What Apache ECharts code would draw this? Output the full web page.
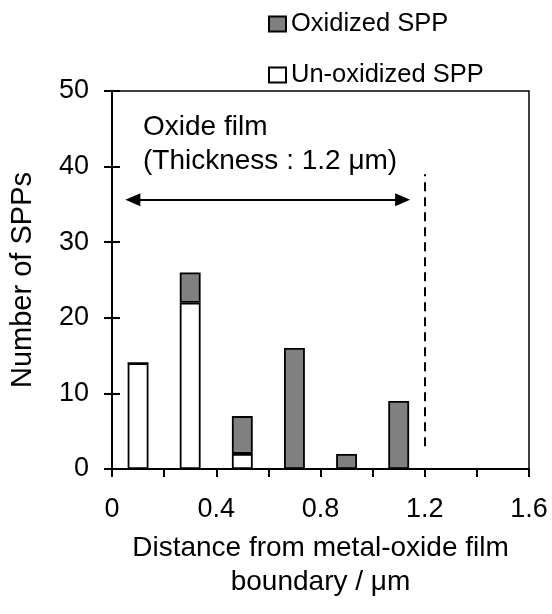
<!DOCTYPE html>
<html>
<head>
<meta charset="utf-8">
<script src="https://cdn.jsdelivr.net/npm/echarts@6/dist/echarts.min.js"></script>
<style>
  html, body { margin: 0; padding: 0; background: #fff; }
  #chart { width: 552px; height: 614px; }
</style>
</head>
<body>
<div id="chart"></div>
<script>
// bins of 0.2 um, bar centred on each bin
let bins = ["0.1", "0.3", "0.5", "0.7", "0.9", "1.1", "1.3", "1.5"];
let unOxidized = [14, 22, 2, 0, 0, 0, 0, 0];
let oxidized = [0, 4, 5, 16, 2, 9, 0, 0];
let xTickLabels = { 0: "0", 4: "0.4", 8: "0.8", 12: "1.2", 16: "1.6" };
let yTicks = { min: 0, max: 50, step: 10 };

// annotation: film thickness line and arrow
let filmEdge = 1.2;
let dashSpan = [3, 39];
let arrowSpan = [0.08, 1.115];
let arrowLevel = 35.6;

let font = "Liberation Sans, Arial, sans-serif";
let myChart = echarts.init(document.getElementById("chart"));

myChart.setOption({
  animation: false,
  textStyle: { fontFamily: font, color: "#000" },
  legend: {
    orient: "vertical",
    left: 263,
    top: 6,
    itemGap: 25,
    itemWidth: 17,
    itemHeight: 15,
    icon: "rect",
    data: ["Oxidized SPP", "Un-oxidized SPP"],
    textStyle: { fontSize: 25.5, fontFamily: font, color: "#000" },
  },
  grid: {
    left: 112,
    right: 23,
    top: 91,
    bottom: 145,
    show: true,
    borderColor: "#000",
    borderWidth: 1.5,
  },
  xAxis: [
    {
      // bars
      type: "category",
      data: bins,
      boundaryGap: true,
      axisLine: { lineStyle: { color: "#000", width: 2 } },
      axisTick: { inside: true, length: 8, lineStyle: { color: "#000", width: 2 } },
      axisLabel: { show: false },
    },
    {
      // labels and outer ticks
      type: "value",
      position: "bottom",
      min: 0,
      max: 1.6,
      interval: 0.2,
      axisLine: { show: false },
      axisTick: { show: true, length: 8, lineStyle: { color: "#000", width: 2 } },
      splitLine: { show: false },
      axisLabel: {
        fontSize: 27,
        color: "#000",
        margin: 27,
        formatter: (v) => xTickLabels[Math.round(v * 10)] || "",
      },
      name: "Distance from metal-oxide film\nboundary / μm",
      nameLocation: "middle",
      nameGap: 62,
      nameTextStyle: { fontSize: 28, color: "#000", lineHeight: 34 },
    },
  ],
  yAxis: [
    {
      type: "value",
      min: yTicks.min,
      max: yTicks.max,
      interval: yTicks.step,
      axisLine: { show: true, lineStyle: { color: "#000", width: 2 } },
      axisTick: { show: true, length: 8, lineStyle: { color: "#000", width: 2 } },
      splitLine: { show: false },
      axisLabel: { fontSize: 27, color: "#000", margin: 23 },
      name: "Number of SPPs",
      nameLocation: "middle",
      nameGap: 75,
      nameTextStyle: { fontSize: 29, color: "#000" },
    },
    {
      type: "value",
      position: "left",
      min: yTicks.min,
      max: yTicks.max,
      interval: yTicks.step,
      axisLine: { show: false },
      axisTick: { show: true, inside: true, length: 8, lineStyle: { color: "#000", width: 2 } },
      splitLine: { show: false },
      axisLabel: { show: false },
    },
  ],
  graphic: [
    {
      type: "text",
      left: 143,
      top: 110,
      style: {
        text: "Oxide film\n(Thickness : 1.2 μm)",
        font: "28px " + font,
        lineHeight: 34,
        fill: "#000",
      },
    },
  ],
  series: [
    {
      name: "Un-oxidized SPP",
      type: "bar",
      stack: "spp",
      barWidth: "40%",
      data: unOxidized,
      itemStyle: { color: "#fff", borderColor: "#000", borderWidth: 1.8 },
    },
    {
      name: "Oxidized SPP",
      type: "bar",
      stack: "spp",
      barWidth: "40%",
      data: oxidized,
      itemStyle: { color: "#808080", borderColor: "#000", borderWidth: 1.8 },
    },
    {
      type: "line",
      xAxisIndex: 1,
      data: [],
      silent: true,
      markLine: {
        silent: true,
        label: { show: false },
        lineStyle: { color: "#000", width: 2, type: "solid" },
        data: [
          [
            {
              coord: [filmEdge, dashSpan[0]],
              symbol: "none",
              lineStyle: { type: [9, 6], color: "#000", width: 2 },
            },
            { coord: [filmEdge, dashSpan[1]], symbol: "none" },
          ],
          [
            { coord: [arrowSpan[0], arrowLevel], symbol: "triangle", symbolSize: [13, 15] },
            { coord: [arrowSpan[1], arrowLevel], symbol: "triangle", symbolSize: [13, 15] },
          ],
        ],
      },
    },
  ],
});
</script>
</body>
</html>
